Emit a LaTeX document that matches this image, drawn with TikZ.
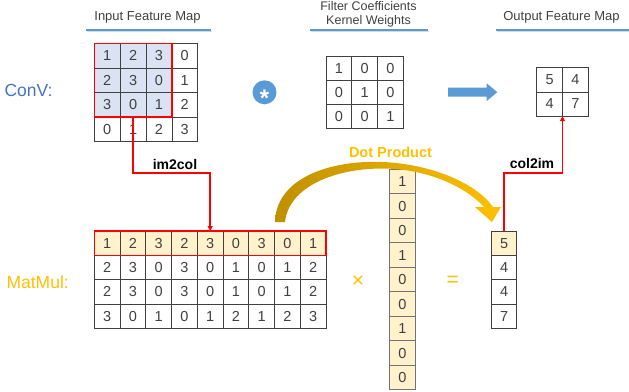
\documentclass[tikz,border=0pt]{standalone}
\usepackage{fontspec}
\setmainfont{Liberation Sans}
\usetikzlibrary{arrows.meta,calc}
\definecolor{txt}{HTML}{404040}
\definecolor{ublue}{HTML}{5B9BD5}
\definecolor{convblue}{HTML}{4472C4}
\definecolor{gold}{HTML}{FFC000}
\definecolor{darkgold}{HTML}{BF9000}
\definecolor{cellblue}{HTML}{DAE3F3}
\definecolor{cellyel}{HTML}{FFF2CC}
\definecolor{myred}{HTML}{FF0000}
\begin{document}
\begin{tikzpicture}[x=1pt,y=-1pt,
  cell/.style={draw=black!75, line width=0.7pt, inner sep=0pt, outer sep=0pt,
    font=\fontsize{14.5}{16}\selectfont, text=txt},
  title/.style={font=\fontsize{13}{15}\selectfont, text=txt, align=center},
  uline/.style={ublue, line width=1.6pt},
  ushadow/.style={black!15, line width=1.2pt},
  redbox/.style={myred, line width=1.5pt},
  redline/.style={myred, line width=1.5pt, -{Triangle[length=5pt,width=5pt]}},
  oplabel/.style={font=\bfseries\fontsize{14}{16}\selectfont, text=black},
  sidelabel/.style={font=\fontsize{17.5}{20}\selectfont, anchor=west},
  opsign/.style={font=\fontsize{21}{22}\selectfont, text=gold},
]
\useasboundingbox (0,0) rectangle (629,391);

% ---------- titles ----------
\node[title] (t-in) at (147.5,17) {Input Feature Map};
\node[title, font=\fontsize{12.5}{14.5}\selectfont] (t-flt) at (368.5,14.5) {Filter Coefficients\\Kernel Weights};
\node[title] (t-out) at (561.5,17) {Output Feature Map};
\coordinate (u1a) at (86,30);  \coordinate (u1b) at (211,30);
\coordinate (u2a) at (310,30); \coordinate (u2b) at (428,30);
\coordinate (u3a) at (496,30); \coordinate (u3b) at (629,30);
\foreach \a/\b in {u1a/u1b,u2a/u2b,u3a/u3b}{
  \draw[ushadow] ($(\a)+(1,1.6)$) -- ($(\b)+(1,1.6)$);
  \draw[uline] (\a) -- (\b);
}

% ---------- side labels ----------
\node[sidelabel, text=convblue] (conv) at (1,90) {ConV:};
\node[sidelabel, text=gold] (matmul) at (3,282) {MatMul:};

% ---------- input feature map ----------
\foreach \row [count=\r from 0] in {{1,2,3,0},{2,3,0,1},{3,0,1,2},{0,1,2,3}}{
  \foreach \v [count=\c from 0] in \row {
    \pgfmathtruncatemacro\hl{and(\r<3,\c<3)}
    \ifnum\hl=1 \def\cf{cellblue}\else\def\cf{white}\fi
    \node[cell, fill=\cf, minimum width=25.85pt, minimum height=24.6pt]
      (in-\r-\c) at ({94.3+25.85*(\c+0.5)},{43.3+24.6*(\r+0.5)}) {\v};
  }
}
\draw[redbox] (in-0-0.north west) rectangle (in-2-2.south east);

% ---------- convolution symbol ----------
\node[circle, fill=ublue, minimum size=24pt, inner sep=0pt] (star) at (264.5,92.3) {};
\node[text=white, font=\bfseries\fontsize{24}{24}\selectfont] (starsym) at ($(star)+(0,5.5)$) {*};

% ---------- filter ----------
\foreach \row [count=\r from 0] in {{1,0,0},{0,1,0},{0,0,1}}{
  \foreach \v [count=\c from 0] in \row {
    \node[cell, minimum width=25.8pt, minimum height=24.1pt]
      (f-\r-\c) at ({326+25.8*(\c+0.5)},{56+24.1*(\r+0.5)}) {\v};
  }
}

% ---------- blue arrow ----------
\fill[ublue] (448,87.7) -- (486.7,87.7) -- (486.7,83.3) -- (497.3,92.2)
  -- (486.7,101) -- (486.7,96.7) -- (448,96.7) -- cycle;

% ---------- output feature map ----------
\foreach \row [count=\r from 0] in {{5,4},{4,7}}{
  \foreach \v [count=\c from 0] in \row {
    \node[cell, minimum width=25.8pt, minimum height=24.2pt]
      (o-\r-\c) at ({536.7+25.8*(\c+0.5)},{67.7+24.2*(\r+0.5)}) {\v};
  }
}

% ---------- im2col matrix ----------
\foreach \row [count=\r from 0] in {{1,2,3,2,3,0,3,0,1},{2,3,0,3,0,1,0,1,2},{2,3,0,3,0,1,0,1,2},{3,0,1,0,1,2,1,2,3}}{
  \foreach \v [count=\c from 0] in \row {
    \ifnum\r=0 \def\cf{cellyel}\else\def\cf{white}\fi
    \node[cell, fill=\cf, minimum width=25.75pt, minimum height=24.3pt]
      (m-\r-\c) at ({94.3+25.75*(\c+0.5)},{231+24.3*(\r+0.5)}) {\v};
  }
}
\draw[redbox] (m-0-0.north west) rectangle (m-0-8.south east);

% ---------- weight vector ----------
\foreach \v [count=\r from 0] in {1,0,0,1,0,0,1,0,0}{
  \node[cell, draw=black!55, fill=cellyel, minimum width=26.4pt, minimum height=24.5pt]
    (w-\r) at (402.5,{169.3+24.5*(\r+0.5)}) {\v};
}

% ---------- result vector ----------
\foreach \v [count=\r from 0] in {5,4,4,7}{
  \ifnum\r=0 \def\cf{cellyel}\else\def\cf{white}\fi
  \node[cell, fill=\cf, minimum width=25pt, minimum height=24.3pt]
    (r-\r) at (504.2,{231+24.3*(\r+0.5)}) {\v};
}

% ---------- operators ----------
\node[opsign] (times) at (358,282) {×};
\node[opsign] (eq) at (452.7,281) {=};

% ---------- red connectors ----------
\coordinate (lvl) at (0,173);
\draw[redline] (in-2-1.south) -- (in-2-1.south |- lvl) -| (m-0-4.north);
\node[oplabel] (lbl-im2col) at (175,164) {im2col};
\draw[redline] (r-0.north) -- (r-0.north |- lvl) -| (o-1-0.south east);
\node[oplabel] (lbl-col2im) at (532,163) {col2im};

% ---------- dot product arrow ----------
\shade[left color=darkgold, right color=gold]
  (275,222) .. controls (276,178) and (330,160) .. (382,162)
  .. controls (434,164) and (478,185) .. (493,207)
  -- (501,207) -- (492,222) -- (475,207) -- (484,207)
  .. controls (468,189) and (430,168.5) .. (382,168.5)
  .. controls (336,168.5) and (289,186) .. (285,222) -- cycle;
\node[font=\bfseries\fontsize{14.5}{16}\selectfont, text=gold] (lbl-dot) at (390.5,152.5) {Dot Product};
\end{tikzpicture}
\end{document}
